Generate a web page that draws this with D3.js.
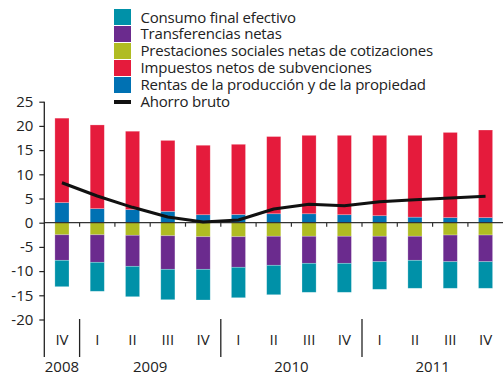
<!DOCTYPE html>
<html>
<head>
<meta charset="utf-8">
<script src="https://cdn.jsdelivr.net/npm/d3@7"></script>
<style>
  html, body { margin: 0; padding: 0; background: #fff; }
  svg { display: block; font-family: "Open Sans", "Noto Sans", sans-serif; }
</style>
</head>
<body>
<svg id="chart" width="503" height="375"></svg>
<script>
// Quarters and years on the horizontal axis
const quarters = ["IV","I","II","III","IV","I","II","III","IV","I","II","III","IV"];
const yearLabels = ["2008","2009","2010","2011"];
const yearFirst = [0, 1, 5, 9];
const yearLast  = [0, 4, 8, 12];

// Contributions (percentage points)
const rentas       = [4.15, 2.9, 2.7, 2.35, 1.65, 1.7, 1.85, 1.85, 1.65, 1.45, 1.15, 1.05, 1.05];
const impuestos    = [17.45, 17.3, 16.2, 14.65, 14.35, 14.5, 15.95, 16.2, 16.4, 16.6, 16.9, 17.6, 18.1];
const prestaciones = [-2.5, -2.5, -2.6, -2.7, -2.9, -2.9, -2.8, -2.8, -2.8, -2.8, -2.8, -2.55, -2.55];
const transferencias = [-5.27, -5.68, -6.41, -6.93, -6.73, -6.31, -6.0, -5.59, -5.59, -5.26, -4.97, -5.51, -5.51];
const consumo      = [-5.45, -5.99, -6.28, -6.28, -6.34, -6.29, -6.08, -5.99, -5.99, -5.7, -5.78, -5.49, -5.49];
const ahorro       = [8.26, 5.52, 3.18, 1.18, 0.14, 0.56, 2.83, 3.8, 3.51, 4.34, 4.75, 5.1, 5.45];

const yTicks = [25, 20, 15, 10, 5, 0, -5, -10, -15, -20];

const colors = {
  consumo: "#0091a8",
  transferencias: "#6b2b8e",
  prestaciones: "#b0bc22",
  impuestos: "#e51b3c",
  rentas: "#0071b3",
  ahorro: "#111111"
};

const legendItems = [
  { label: "Consumo final efectivo", key: "consumo" },
  { label: "Transferencias netas", key: "transferencias" },
  { label: "Prestaciones sociales netas de cotizaciones", key: "prestaciones" },
  { label: "Impuestos netos de subvenciones", key: "impuestos" },
  { label: "Rentas de la producción y de la propiedad", key: "rentas" },
  { label: "Ahorro bruto", key: "ahorro", line: true }
];

const svg = d3.select("#chart");
const left = 44.3, right = 503.2;
const textColor = "#222";
const fontSize = "15px";

const x = d3.scaleBand()
  .domain(d3.range(quarters.length))
  .range([left, right])
  .paddingInner(0.6)
  .paddingOuter(0.3);

const y = d3.scaleLinear().domain([-20, 25]).range([319.5, 101.7]);

// Stacked segments: positives upward from zero, negatives downward
const posSeries = [
  { key: "rentas", values: rentas },
  { key: "impuestos", values: impuestos }
];
const negSeries = [
  { key: "prestaciones", values: prestaciones },
  { key: "transferencias", values: transferencias },
  { key: "consumo", values: consumo }
];

function stackSegments(series) {
  const segs = [];
  const base = quarters.map(() => 0);
  series.forEach(s => {
    s.values.forEach((v, i) => {
      segs.push({ key: s.key, i, y0: base[i], y1: base[i] + v });
      base[i] += v;
    });
  });
  return segs;
}
const segments = stackSegments(posSeries).concat(stackSegments(negSeries));

svg.append("g").selectAll("rect")
  .data(segments)
  .join("rect")
  .attr("x", d => x(d.i))
  .attr("width", x.bandwidth())
  .attr("y", d => y(Math.max(d.y0, d.y1)))
  .attr("height", d => Math.abs(y(d.y0) - y(d.y1)))
  .attr("fill", d => colors[d.key])
  .attr("stroke", "rgba(255,255,255,0.35)")
  .attr("stroke-width", 0.7);

// Zero line with quarter ticks
svg.append("line")
  .attr("x1", left).attr("x2", right)
  .attr("y1", y(0)).attr("y2", y(0))
  .attr("stroke", "#333").attr("stroke-width", 1.3);

const boundaries = d3.range(1, quarters.length);
const step = x.step();
const boundaryX = k => x(k) - (step - x.bandwidth()) / 2;

svg.append("g").selectAll("line")
  .data(boundaries)
  .join("line")
  .attr("x1", boundaryX).attr("x2", boundaryX)
  .attr("y1", y(0)).attr("y2", y(0) + 4)
  .attr("stroke", "#333").attr("stroke-width", 1.2);

// Vertical axis (plain hyphen for negative numbers)
const yAxis = d3.axisLeft(y)
  .tickValues(yTicks)
  .tickFormat(d => String(d))
  .tickSize(5)
  .tickPadding(6);
const gy = svg.append("g").attr("transform", `translate(${left},0)`).call(yAxis);
gy.select(".domain").remove();
gy.selectAll(".tick line").attr("stroke", "#222").attr("stroke-width", 1.2);
gy.selectAll(".tick text")
  .attr("fill", textColor)
  .style("font-size", fontSize)
  .style("font-family", "'Open Sans', sans-serif");

svg.append("line")
  .attr("x1", left).attr("x2", left)
  .attr("y1", y(25)).attr("y2", 357)
  .attr("stroke", "#222").attr("stroke-width", 1.3);

// Ahorro bruto line
const line = d3.line()
  .x((d, i) => x(i) + x.bandwidth() / 2)
  .y(d => y(d));
svg.append("path")
  .datum(ahorro)
  .attr("d", line)
  .attr("fill", "none")
  .attr("stroke", colors.ahorro)
  .attr("stroke-width", 3)
  .attr("stroke-linejoin", "round");

// Quarter labels
svg.append("g").selectAll("text")
  .data(quarters)
  .join("text")
  .attr("x", (d, i) => x(i) + x.bandwidth() / 2)
  .attr("y", 345)
  .attr("text-anchor", "middle")
  .attr("fill", textColor)
  .style("font-size", fontSize)
  .text(d => d);

// Year separators
svg.append("g").selectAll("line")
  .data(yearFirst.slice(1))
  .join("line")
  .attr("x1", boundaryX).attr("x2", boundaryX)
  .attr("y1", 319).attr("y2", 357)
  .attr("stroke", "#222").attr("stroke-width", 1.3);

// Year labels
svg.append("g").selectAll("text")
  .data(yearLabels)
  .join("text")
  .attr("x", (d, k) => (x(yearFirst[k]) + x(yearLast[k])) / 2 + x.bandwidth() / 2)
  .attr("y", 372)
  .attr("text-anchor", "middle")
  .attr("fill", textColor)
  .style("font-size", fontSize)
  .text(d => d);

// Legend
const lg = svg.append("g");
legendItems.forEach((item, k) => {
  const top = 9 + k * 17;
  if (item.line) {
    lg.append("rect").attr("x", 114).attr("y", 100).attr("width", 17).attr("height", 4)
      .attr("fill", colors[item.key]);
  } else {
    lg.append("rect").attr("x", 114).attr("y", top).attr("width", 17).attr("height", 16)
      .attr("fill", colors[item.key]);
  }
  lg.append("text")
    .attr("x", 140.5)
    .attr("y", 22.5 + k * 16.9)
    .attr("fill", textColor)
    .style("font-size", fontSize)
    .style("letter-spacing", "-0.2px")
    .text(item.label);
});
</script>
</body>
</html>
